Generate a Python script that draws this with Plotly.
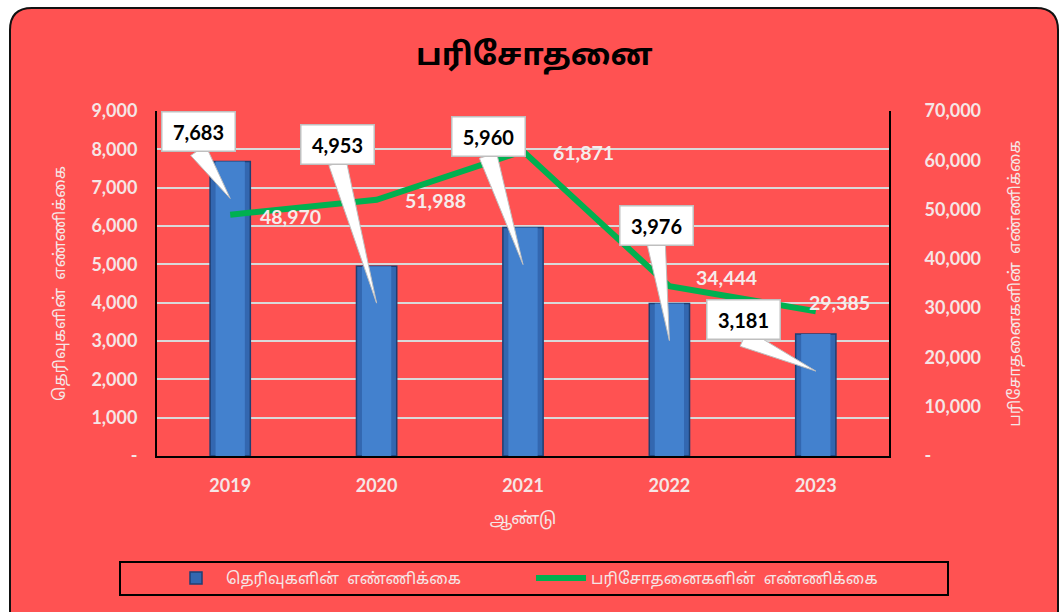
import math
import plotly.graph_objects as go

years = ["2019", "2020", "2021", "2022", "2023"]
findings = [7683, 4953, 5960, 3976, 3181]          # தெரிவுகளின் எண்ணிக்கை (left axis)
tests = [48970, 51988, 61871, 34444, 29385]         # பரிசோதனைகளின் எண்ணிக்கை (right axis)
left_ticks = [0, 1000, 2000, 3000, 4000, 5000, 6000, 7000, 8000, 9000]
left_ticktext = ["-", "1,000", "2,000", "3,000", "4,000", "5,000", "6,000", "7,000", "8,000", "9,000"]
right_ticks = [0, 10000, 20000, 30000, 40000, 50000, 60000, 70000]
right_ticktext = ["-", "10,000", "20,000", "30,000", "40,000", "50,000", "60,000", "70,000"]

# callout box offsets (pixels, relative to bar top) - style only
box_dx = [-32, -39, -35, -13, -72]
box_dy = [30, 122, 91, 78, 15]
# line label offsets
lab_dx = [28, 26, 28, 25, -9]
lab_dy = [-2, -1, -1, 9, 9]

W, H = 1064, 612
L, R, T, B = 157, 175, 111, 156
PW, PH = W - L - R, H - T - B

RED = "#FF5252"
LIGHT = "#F5E6E6"
FONT = "Lato, Carlito, Calibri, sans-serif"
TFONT = "Noto Sans Tamil, Noto Sans, sans-serif"

fig = go.Figure()

fig.add_trace(go.Bar(
    x=years, y=findings, name="தெரிவுகளின்  எண்ணிக்கை",
    marker=dict(color="#3367B0", line=dict(color="#1F3F73", width=1.5)),
    width=0.275, yaxis="y",
))
# inner highlight of the bars (bevel look)
fig.add_trace(go.Bar(
    x=years, y=findings, showlegend=False, hoverinfo="skip",
    marker=dict(color="#4381CE", line=dict(width=0)),
    width=0.2, yaxis="y",
))
fig.add_trace(go.Scatter(
    x=years, y=tests, name="பரிசோதனைகளின்  எண்ணிக்கை",
    mode="lines", line=dict(color="#00B050", width=6),
    yaxis="y2",
))

shapes = []
annotations = []


def to_px(xp, yp):
    return (xp - L) / PW, 1 - (yp - T) / PH


# background rounded rectangle
x0, y0 = to_px(10, 8)
x1, y1 = to_px(1058, 640)
rx = 22 / PW
ry = 22 / PH
path = (f"M {x0+rx},{y0} L {x1-rx},{y0} Q {x1},{y0} {x1},{y0-ry} "
        f"L {x1},{y1+ry} Q {x1},{y1} {x1-rx},{y1} L {x0+rx},{y1} "
        f"Q {x0},{y1} {x0},{y1+ry} L {x0},{y0-ry} Q {x0},{y0} {x0+rx},{y0} Z")
shapes.append(dict(type="path", xref="paper", yref="paper", path=path,
                   fillcolor=RED, line=dict(color="#111111", width=2), layer="below"))

# legend frame
lx0, ly0 = to_px(120, 562)
lx1, ly1 = to_px(948, 595)
shapes.append(dict(type="rect", xref="paper", yref="paper", x0=lx0, x1=lx1, y0=ly0, y1=ly1,
                   line=dict(color="black", width=2), fillcolor="rgba(0,0,0,0)", layer="below"))

# callouts for bars
for i, v in enumerate(findings):
    dx, dy = box_dx[i], box_dy[i]
    tipx, tipy = 0, -37
    bx, by = dx, dy - 19
    vx, vy = bx - tipx, by - tipy
    n = math.hypot(vx, vy)
    px, py = -vy / n * 9, vx / n * 9
    p = f"M {tipx},{tipy} L {bx+px},{by+py} L {bx-px},{by-py} Z"
    shapes.append(dict(type="path", xref="x", yref="y", xsizemode="pixel", ysizemode="pixel",
                       xanchor=i, yanchor=v, path=p, fillcolor="white",
                       line=dict(color="#BFBFBF", width=1), layer="above"))
    annotations.append(dict(
        x=i, y=v, xref="x", yref="y", text=f"<b>{v:,}</b>", showarrow=False,
        xshift=dx, yshift=dy, bgcolor="white", bordercolor="#BFBFBF", borderwidth=1.5,
        borderpad=7, width=58, font=dict(family=FONT, size=20, color="black"),
    ))

# line labels
for i, v in enumerate(tests):
    annotations.append(dict(
        x=i, y=v, xref="x", yref="y2", text=f"<b>{v:,}</b>", showarrow=False,
        xanchor="left", xshift=lab_dx[i], yshift=lab_dy[i],
        font=dict(family=FONT, size=19.5, color="#F5ECEC"),
    ))

cx = 0.5 + (534 - (L + PW / 2)) / PW
# title
annotations.append(dict(
    text="<b>பரிசோதனை</b>", xref="paper", yref="paper", x=cx,
    y=1 + (111 - 57) / PH, showarrow=False, xanchor="center", yanchor="middle",
    font=dict(family=TFONT, size=31, color="black"),
))

fig.update_layout(
    width=W, height=H,
    margin=dict(l=L, r=R, t=T, b=B, autoexpand=False),
    paper_bgcolor="white", plot_bgcolor=RED,
    barmode="overlay",
    showlegend=True,
    legend=dict(orientation="h", x=to_px(166, 0)[0], xanchor="left",
                y=to_px(0, 578)[1], yanchor="middle",
                borderwidth=0, bgcolor="rgba(0,0,0,0)",
                entrywidth=300, itemwidth=50, traceorder="normal",
                font=dict(family=TFONT, size=16, color=LIGHT)),
    xaxis=dict(
        type="category", automargin=False, range=[-0.5, 4.5],
        tickfont=dict(family=FONT, size=18, color=LIGHT, weight="bold"), showline=True,
        linecolor="black", linewidth=2, ticks="", showgrid=False, ticklabelstandoff=12,
        title=dict(text="ஆண்டு", font=dict(family=TFONT, size=17, color=LIGHT), standoff=18),
    ),
    yaxis=dict(
        range=[0, 9000], tickvals=left_ticks, ticktext=left_ticktext, automargin=False,
        tickfont=dict(family=FONT, size=18, color=LIGHT, weight="bold"),
        showgrid=True, gridcolor="#D9D9D9", gridwidth=2,
        showline=True, linecolor="black", linewidth=2, zeroline=False, ticks="",
        ticklabelstandoff=14,
        title=dict(text="தெரிவுகளின்  எண்ணிக்கை", font=dict(family=TFONT, size=16, color=LIGHT), standoff=22),
    ),
    yaxis2=dict(
        range=[0, 70000], tickvals=right_ticks, ticktext=right_ticktext, automargin=False,
        overlaying="y", side="right", showgrid=False,
        tickfont=dict(family=FONT, size=18, color=LIGHT, weight="bold"),
        showline=True, linecolor="black", linewidth=2, zeroline=False, ticks="",
        ticklabelstandoff=30,
        title=dict(text="பரிசோதனைகளின்  எண்ணிக்கை", font=dict(family=TFONT, size=16, color=LIGHT), standoff=29),
    ),
    shapes=shapes,
    annotations=annotations,
)

fig.write_html("out.html", config={"displayModeBar": False},
               post_script="document.body.style.margin='0';document.body.style.overflow='hidden';")
